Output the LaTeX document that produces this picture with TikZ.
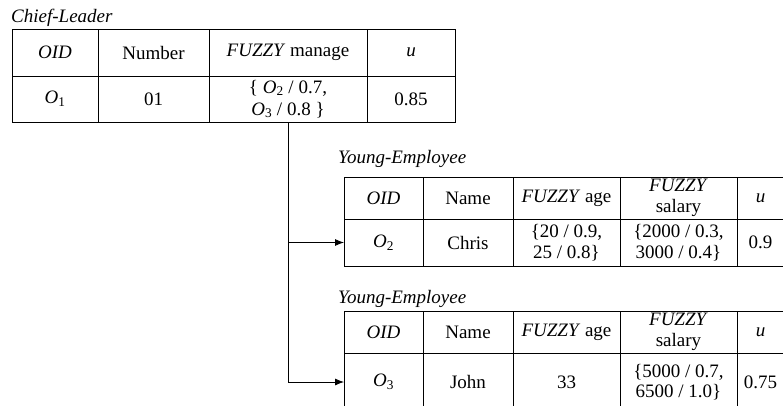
\documentclass[tikz,border=0pt]{standalone}
\usepackage{fontspec}
\setmainfont{Liberation Serif}
\usetikzlibrary{arrows.meta}

\tikzset{
  cell/.style={draw, line width=0.8pt, anchor=north west, inner sep=0pt, outer sep=0pt,
    align=center, font=\fontsize{19}{20.5}\selectfont},
  title/.style={anchor=base west, inner sep=0pt, font=\fontsize{19}{19}\selectfont\itshape},
  link/.style={line width=0.8pt, -{Latex[length=9pt,width=7pt]}}
}

\newcommand{\Oid}[1]{\textit{O}\textsubscript{#1}}

\begin{document}
\begin{tikzpicture}[x=1pt,y=-1pt]
\clip (0,0) rectangle (783,405);

\node[title] (chief) at (11,22) {Chief-Leader};
\node[cell,minimum width=86pt,minimum height=47pt] (cl-oid) at (12,29) {\textit{OID}};
\node[cell,minimum width=111pt,minimum height=47pt] (cl-num) at (98,29) {Number};
\node[cell,minimum width=158pt,minimum height=47pt] (cl-man) at (209,29) {\textit{FUZZY} manage};
\node[cell,minimum width=88pt,minimum height=47pt] (cl-u) at (367,29) {\textit{u}};
\node[cell,minimum width=86pt,minimum height=46pt] (cl-o1) at (12,76) {\Oid{1}};
\node[cell,minimum width=111pt,minimum height=46pt] (cl-01) at (98,76) {01};
\node[cell,minimum width=158pt,minimum height=46pt,font=\fontsize{19}{22}\selectfont] (cl-set) at (209,76) {\{ \Oid{2} / 0.7,\\\Oid{3} / 0.8 \}};
\node[cell,minimum width=88pt,minimum height=46pt] (cl-085) at (367,76) {0.85};

\node[title] (young1) at (338,163) {Young-Employee};
\node[cell,minimum width=79pt,minimum height=42pt] (ye1-oid) at (344,177) {\textit{OID}};
\node[cell,minimum width=90pt,minimum height=42pt] (ye1-name) at (423,177) {Name};
\node[cell,minimum width=107pt,minimum height=42pt] (ye1-age) at (513,177) {\textit{FUZZY} age};
\node[cell,minimum width=117pt,minimum height=42pt] (ye1-sal) at (620,177) {\textit{FUZZY}\\salary};
\node[cell,minimum width=47pt,minimum height=42pt] (ye1-u) at (737,177) {\textit{u}};
\node[cell,minimum width=79pt,minimum height=47pt] (ye1-o2) at (344,219) {\Oid{2}};
\node[cell,minimum width=90pt,minimum height=47pt] (ye1-chris) at (423,219) {Chris};
\node[cell,minimum width=107pt,minimum height=47pt] (ye1-agev) at (513,219) {\{20 / 0.9,\\25 / 0.8\}};
\node[cell,minimum width=117pt,minimum height=47pt] (ye1-salv) at (620,219) {\{2000 / 0.3,\\3000 / 0.4\}};
\node[cell,minimum width=47pt,minimum height=47pt] (ye1-uv) at (737,219) {0.9};

\node[title] (young2) at (338,303) {Young-Employee};
\node[cell,minimum width=79pt,minimum height=42pt] (ye2-oid) at (344,311) {\textit{OID}};
\node[cell,minimum width=90pt,minimum height=42pt] (ye2-name) at (423,311) {Name};
\node[cell,minimum width=107pt,minimum height=42pt] (ye2-age) at (513,311) {\textit{FUZZY} age};
\node[cell,minimum width=117pt,minimum height=42pt] (ye2-sal) at (620,311) {\textit{FUZZY}\\salary};
\node[cell,minimum width=47pt,minimum height=42pt] (ye2-u) at (737,311) {\textit{u}};
\node[cell,minimum width=79pt,minimum height=58pt] (ye2-o3) at (344,353) {\Oid{3}};
\node[cell,minimum width=90pt,minimum height=58pt] (ye2-john) at (423,353) {John};
\node[cell,minimum width=107pt,minimum height=58pt] (ye2-agev) at (513,353) {33};
\node[cell,minimum width=117pt,minimum height=58pt] (ye2-salv) at (620,353) {\{5000 / 0.7,\\6500 / 1.0\}};
\node[cell,minimum width=47pt,minimum height=58pt] (ye2-uv) at (737,353) {0.75};

\draw[link] (cl-set.south) |- (ye1-o2.west);
\draw[link] (cl-set.south) |- (ye2-o3.west);

\end{tikzpicture}
\end{document}
